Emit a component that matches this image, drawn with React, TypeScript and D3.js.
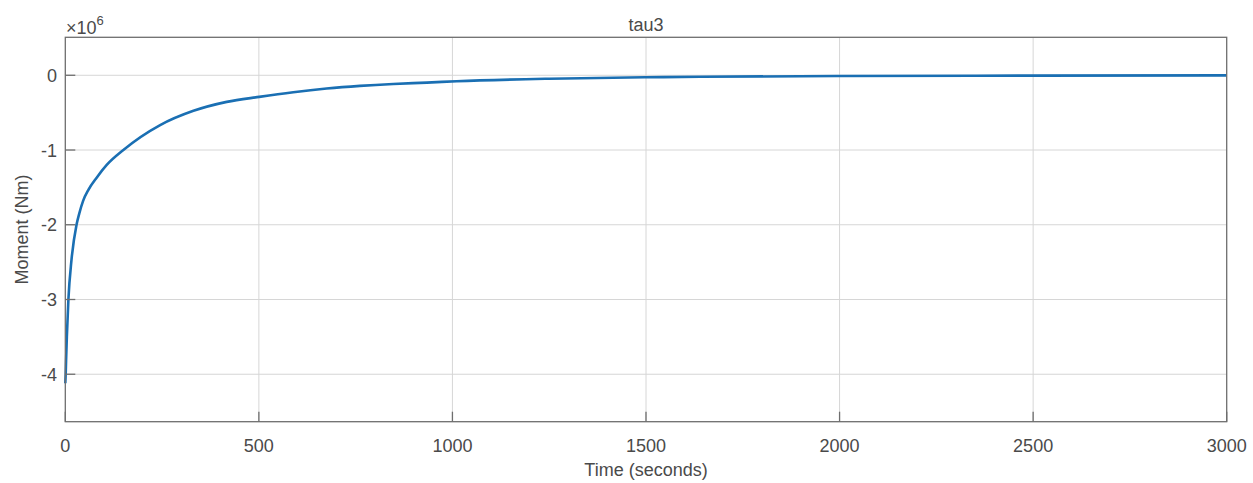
import React, { useEffect, useRef } from 'react';
import * as d3 from 'd3';

// time (seconds) and moment (x10^6 Nm)
const timeSec = [0, 1, 2, 4, 8, 16, 29, 36, 46, 60, 81, 107, 150, 245, 331, 417, 501, 589, 675, 761, 847, 934, 1011, 1250, 1500, 1640, 2000, 2500, 3000];
const momentE6 = [-4.12, -4.0, -3.82, -3.5, -3.0, -2.47, -2.0, -1.85, -1.68, -1.53, -1.37, -1.2, -1.0, -0.667, -0.476, -0.356, -0.289, -0.227, -0.178, -0.142, -0.116, -0.098, -0.08, -0.046, -0.027, -0.02, -0.01, -0.005, -0.002];

const xTicks = [0, 500, 1000, 1500, 2000, 2500, 3000];
const yTicks = [0, -1, -2, -3, -4];

const W = 1253;
const H = 483;

function App() {
  const svgRef = useRef<SVGSVGElement>(null);

  useEffect(() => {
    const svgDom = svgRef.current;
    if (!svgDom) return;
    const svg = d3.select(svgDom);
    svg.selectAll('*').remove();

    const left = 65.3, right = 1226.7, top = 37.3, bottom = 421.7;
    const font = 'Liberation Sans, Arial, Helvetica, sans-serif';
    const txt = '#4a4a4a';

    const x = d3.scaleLinear().domain([0, 3000]).range([left, right]);
    const y = d3.scaleLinear().domain([-4.635, 0.508]).range([bottom, top]);

    svg.append('rect')
      .attr('x', 0).attr('y', 0).attr('width', W).attr('height', H)
      .attr('fill', '#ffffff');

    // grid
    const grid = svg.append('g').attr('stroke', '#d6d6d6').attr('stroke-width', 1);
    grid.selectAll('line.gx')
      .data(xTicks.slice(1, -1))
      .join('line')
      .attr('x1', d => x(d)).attr('x2', d => x(d))
      .attr('y1', top).attr('y2', bottom);
    grid.selectAll('line.gy')
      .data(yTicks)
      .join('line')
      .attr('y1', d => y(d)).attr('y2', d => y(d))
      .attr('x1', left).attr('x2', right);

    // curve
    const line = d3.line<number>()
      .x((_, i) => x(timeSec[i]))
      .y(d => y(d))
      .curve(d3.curveMonotoneX);
    svg.append('path')
      .datum(momentE6)
      .attr('d', line)
      .attr('fill', 'none')
      .attr('stroke', '#1a6fb3')
      .attr('stroke-width', 2.6)
      .attr('stroke-linejoin', 'round');

    // axes box + ticks
    const ax = svg.append('g').attr('stroke', '#6e6e6e').attr('stroke-width', 1.3).attr('fill', 'none');
    ax.append('rect')
      .attr('x', left).attr('y', top)
      .attr('width', right - left).attr('height', bottom - top);
    ax.selectAll('line.tx')
      .data(xTicks)
      .join('line')
      .attr('x1', d => x(d)).attr('x2', d => x(d))
      .attr('y1', bottom).attr('y2', bottom - 10);
    svg.append('g').attr('stroke', '#6e6e6e').attr('stroke-width', 1.3)
      .selectAll('line')
      .data(yTicks)
      .join('line')
      .attr('y1', d => y(d)).attr('y2', d => y(d))
      .attr('x1', left).attr('x2', left + 10);

    // tick labels
    svg.append('g')
      .style('font', `18px ${font}`)
      .attr('fill', txt)
      .attr('text-anchor', 'middle')
      .selectAll('text')
      .data(xTicks)
      .join('text')
      .attr('x', d => x(d))
      .attr('y', 451.5)
      .text(d => String(d));
    svg.append('g')
      .style('font', `18px ${font}`)
      .attr('fill', txt)
      .attr('text-anchor', 'end')
      .selectAll('text')
      .data(yTicks)
      .join('text')
      .attr('x', 57)
      .attr('y', d => y(d) + 6.5)
      .text(d => (d < 0 ? '-' + Math.abs(d) : String(d)));

    // exponent
    const ex = svg.append('text')
      .attr('x', 66).attr('y', 34)
      .attr('fill', txt)
      .style('font', `18px ${font}`);
    ex.append('tspan').text('×10');
    ex.append('tspan').attr('dy', -9).style('font-size', '13px').text('6');

    // labels
    svg.append('text')
      .attr('x', (left + right) / 2).attr('y', 476)
      .attr('text-anchor', 'middle')
      .attr('fill', txt)
      .style('font', `18px ${font}`)
      .text('Time (seconds)');
    svg.append('text')
      .attr('transform', `translate(28,${(top + bottom) / 2}) rotate(-90)`)
      .attr('text-anchor', 'middle')
      .attr('fill', txt)
      .style('font', `18px ${font}`)
      .text('Moment (Nm)');
    svg.append('text')
      .attr('x', (left + right) / 2).attr('y', 31)
      .attr('text-anchor', 'middle')
      .attr('fill', txt)
      .style('font', `18px ${font}`)
      .text('tau3');

    return () => { svg.selectAll('*').remove(); };
  }, []);

  return (
    <svg ref={svgRef} width={W} height={H} style={{ position: 'absolute', left: 0, top: 0, display: 'block' }} />
  );
}

export default App;
